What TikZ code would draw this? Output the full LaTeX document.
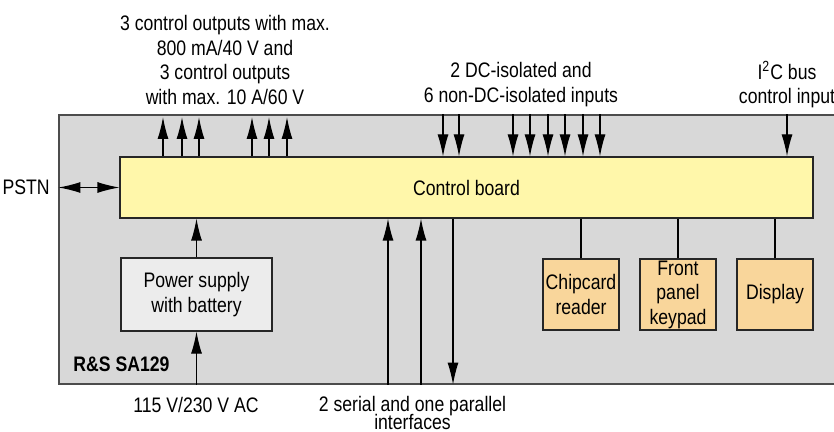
\documentclass[tikz,border=0pt]{standalone}
\usepackage{fontspec}
\setmainfont{Liberation Sans}[FakeStretch=0.84]
\usepackage{xcolor}
\usetikzlibrary{arrows.meta, positioning}
\definecolor{framegray}{RGB}{216, 216, 216}
\definecolor{boardyellow}{RGB}{255, 247, 170}
\definecolor{unitorange}{RGB}{249, 214, 155}
\definecolor{psugray}{RGB}{236, 236, 236}

\begin{document}
\begin{tikzpicture}[
  x=0.5pt, y=-0.5pt,
  lbl/.style={font=\fontsize{10.5}{12.25}\selectfont, align=center, inner sep=0pt},
  box/.style={draw=black!85, line width=0.6pt, inner sep=0pt, align=center,
    font=\fontsize{10.5}{12.25}\selectfont},
  unit/.style={box, fill=unitorange, minimum width=38pt, minimum height=35.5pt},
  tip/.tip={Latex[length=11pt, width=5.5pt]},
  arr/.style={-tip, line width=0.6pt},
  link/.style={line width=0.6pt},
]
  \useasboundingbox (0,0) rectangle (834,432);

  % Device frame (runs off the right edge)
  \node[draw=black!70, fill=framegray, line width=0.6pt,
    minimum width=393pt, minimum height=134.5pt] (sa) at (452,249.5) {};
  \node[lbl, anchor=west, font=\fontsize{10.5}{12.25}\selectfont\bfseries] (sa129) at (73,364) {R\&S SA129};

  % Boxes
  \node[box, fill=boardyellow, minimum width=346.5pt, minimum height=30.5pt] (board) at (466.5,187.5) {Control board};
  \node[box, fill=psugray, minimum width=75.5pt, minimum height=36.5pt] (psu) at (196.5,294.5) {Power supply\\with battery};
  \node[unit] (chip) at (581,294.5) {Chipcard\\reader};
  \node[unit] (keypad) at (678,294.5) {Front\\panel\\keypad};
  \node[unit] (display) at (775,294.5) {Display};

  % Control outputs
  \foreach \x in {163,182,199,252,269,287} {
    \draw[arr] (\x,0 |- board.north) -- (\x,117);
  }

  % Inputs and I2C bus
  \foreach \x in {443,459,513,530,548,565,583,600,787} {
    \draw[arr] (\x,0 |- sa.north) -- (\x,0 |- board.north);
  }

  % PSTN
  \node[lbl, anchor=east] (pstn) at (50,187.5) {PSTN};
  \draw[tip-tip, line width=0.6pt] (sa.west |- board.west) -- (board.west);

  % Power path
  \draw[arr] (psu.south |- sa.south) -- (psu.south);
  \draw[arr] (psu.north) -- (psu.north |- board.south);

  % Serial / parallel interfaces
  \draw[arr] (388,0 |- sa.south) -- (388,0 |- board.south);
  \draw[arr] (421,0 |- sa.south) -- (421,0 |- board.south);
  \draw[arr] (453,0 |- board.south) -- (453,0 |- sa.south);

  % Front panel units
  \draw[link] (chip.north) -- (chip.north |- board.south);
  \draw[link] (keypad.north) -- (keypad.north |- board.south);
  \draw[link] (display.north) -- (display.north |- board.south);

  % Outside labels
  \node[lbl] (outlbl) at (225,60) {3 control outputs with max.\\800 mA/40 V and\\3 control outputs\\with max. 10 A/60 V};
  \node[lbl] (inlbl) at (521,84.5) {2 DC-isolated and\\6 non-DC-isolated inputs};
  \node[lbl] (i2clbl) at (787,84.5) {I\textsuperscript{2}C bus\\control input};
  \node[lbl] (aclbl) at (196,405) {115 V/230 V AC};
  \node[lbl] (seriallbl) at (412.5,413) {2 serial and one parallel\\[-3pt]interfaces};

\end{tikzpicture}
\end{document}
